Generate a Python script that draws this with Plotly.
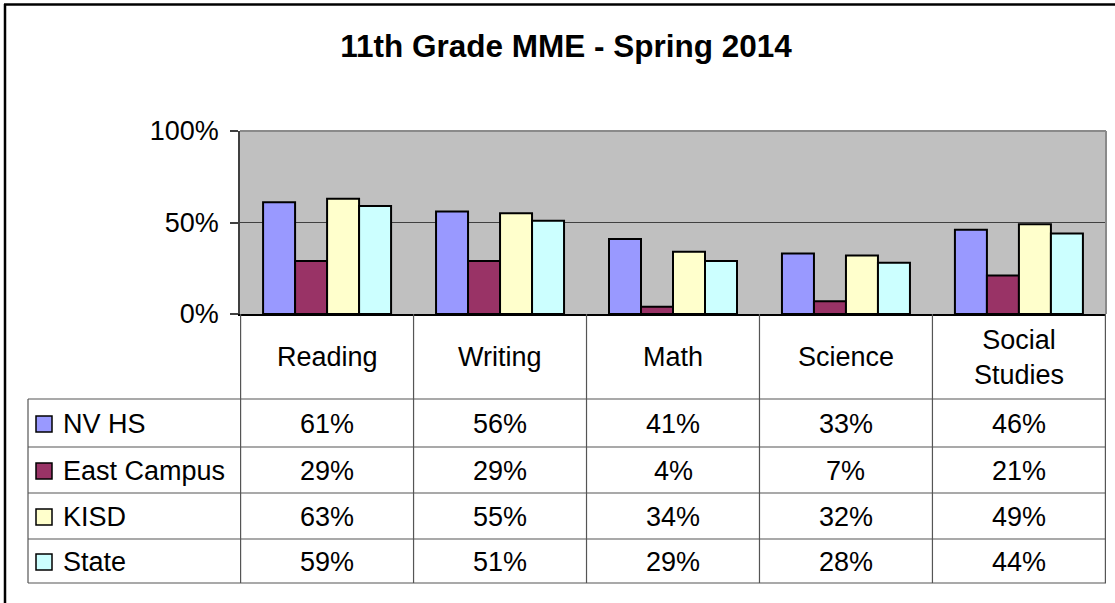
import plotly.graph_objects as go

# ---- data ----
categories = ["Reading", "Writing", "Math", "Science", "Social Studies"]
header_labels = ["Reading", "Writing", "Math", "Science", "Social<br>Studies"]
series_names = ["NV HS", "East Campus", "KISD", "State"]
nv_hs = [61, 56, 41, 33, 46]
east_campus = [29, 29, 4, 7, 21]
kisd = [63, 55, 34, 32, 49]
state = [59, 51, 29, 28, 44]
series_values = [nv_hs, east_campus, kisd, state]
colors = ["#9999FF", "#993366", "#FFFFCC", "#CCFFFF"]
title_text = "11th Grade MME - Spring 2014"

W, H = 1115, 603
L, R, T, B = 240, 1106, 131, 314  # plot area pixels
PW, PH = R - L, B - T
FONT = "Liberation Sans, Arial, sans-serif"


def px(x):
    return (x - L) / PW


def py(y):
    return (B - y) / PH


fig = go.Figure()
for name, vals, col in zip(series_names, series_values, colors):
    fig.add_trace(go.Bar(
        x=categories, y=[v / 100 for v in vals], name=name,
        marker=dict(color=col, line=dict(color="black", width=2)),
        showlegend=False,
    ))

shapes = []
annotations = []
line_col = "#555555"

# table grid
row_lines = [399, 447, 493, 539, 583]
for i, yy in enumerate(row_lines):
    shapes.append(dict(type="line", xref="paper", yref="paper",
                       x0=px(28), x1=px(R), y0=py(yy), y1=py(yy),
                       line=dict(color=line_col, width=1.2)))
# vertical lines at category boundaries
n = len(categories)
for k in range(n + 1):
    shapes.append(dict(type="line", xref="x", yref="paper",
                       x0=k - 0.5, x1=k - 0.5, y0=py(B), y1=py(583),
                       line=dict(color=line_col, width=1.2)))
# left border of legend column
shapes.append(dict(type="line", xref="paper", yref="paper",
                   x0=px(28), x1=px(28), y0=py(399), y1=py(583),
                   line=dict(color=line_col, width=1.2)))

# plot area right & top border (gray)
shapes.append(dict(type="line", xref="paper", yref="paper",
                   x0=1, x1=1, y0=0, y1=1, line=dict(color="#8a8a8a", width=2)))
shapes.append(dict(type="line", xref="paper", yref="paper",
                   x0=0, x1=1, y0=1, y1=1, line=dict(color="#8a8a8a", width=2)))

# outer frame (top and left)
shapes.append(dict(type="line", xref="paper", yref="paper",
                   x0=px(4), x1=px(W), y0=py(4.5), y1=py(4.5),
                   line=dict(color="black", width=2.5)))
shapes.append(dict(type="line", xref="paper", yref="paper",
                   x0=px(5), x1=px(5), y0=py(4), y1=py(H),
                   line=dict(color="black", width=2.5)))

# header labels
for cat, lab in zip(categories, header_labels):
    annotations.append(dict(x=cat, xref="x", y=py(357), yref="paper",
                            text=lab, showarrow=False, xanchor="center", yanchor="middle",
                            font=dict(family=FONT, size=27, color="black")))

# data rows
row_centers = [423, 470, 516, 561]
for name, vals, col, yc in zip(series_names, series_values, colors, row_centers):
    shapes.append(dict(type="rect", xref="paper", yref="paper",
                       x0=px(36), x1=px(52), y0=py(yc - 7), y1=py(yc + 9),
                       fillcolor=col, line=dict(color="black", width=1.5)))
    annotations.append(dict(x=px(61), xref="paper", y=py(yc + 1), yref="paper",
                            text=name, showarrow=False, xanchor="left", yanchor="middle",
                            font=dict(family=FONT, size=27, color="black")))
    for cat, v in zip(categories, vals):
        annotations.append(dict(x=cat, xref="x", y=py(yc + 1), yref="paper",
                                text=f"{v}%", showarrow=False, xanchor="center", yanchor="middle",
                                font=dict(family=FONT, size=27, color="black")))

fig.update_layout(
    width=W, height=H,
    margin=dict(l=L, r=W - R, t=T, b=H - B, pad=0),
    paper_bgcolor="white", plot_bgcolor="#C0C0C0",
    barmode="group", bargap=0.26, bargroupgap=0,
    title=dict(text=f"<b>{title_text}</b>", x=566 / W, xanchor="center",
               y=1 - 46 / H, yanchor="middle", yref="container",
               font=dict(family=FONT, size=31.5, color="black")),
    xaxis=dict(showticklabels=False, ticks="", showgrid=False, showline=True,
               linecolor="black", linewidth=2, zeroline=False, fixedrange=True),
    yaxis=dict(range=[0, 1], tickvals=[0, 0.5, 1], tickformat=".0%",
               showgrid=True, gridcolor="#404040", gridwidth=1,
               showline=True, linecolor="#404040", linewidth=1.5,
               ticks="outside", ticklen=8, tickcolor="#404040", tickwidth=1.5,
               zeroline=False, tickfont=dict(family=FONT, size=27, color="black"),
               ticklabelstandoff=6),
    shapes=shapes, annotations=annotations,
    font=dict(family=FONT, color="black"),
)

fig.write_html("out.html", config={"displayModeBar": False},
               post_script="document.body.style.margin='0';document.body.style.overflow='hidden';")
